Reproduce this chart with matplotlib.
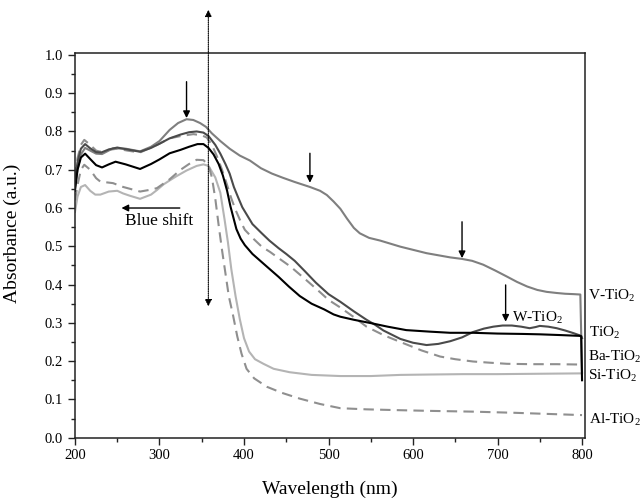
import matplotlib
matplotlib.use("Agg")
import matplotlib.pyplot as plt
from matplotlib.ticker import MultipleLocator, FormatStrFormatter

plt.rcParams["font.family"] = ["Liberation Serif", "DejaVu Serif"]
plt.rcParams["mathtext.fontset"] = "custom"
plt.rcParams["mathtext.rm"] = "Liberation Serif"
plt.rcParams["mathtext.it"] = "Liberation Serif:italic"

# UV-vis absorbance spectra (wavelength in nm, absorbance in a.u.)
v_x = [200, 203, 207, 212, 218, 225, 232, 245, 260, 277, 290, 300, 312, 322, 332, 340,
       348, 355, 362, 372, 383, 395, 407, 420, 433, 446, 460, 478, 490, 498, 506, 514,
       522, 530, 537, 548, 561, 585, 616, 644, 658, 670, 683, 697, 711, 723, 735, 747,
       758, 770, 780, 790, 798, 800]
v_y = [0.655, 0.70, 0.74, 0.757, 0.75, 0.742, 0.741, 0.756, 0.755, 0.748, 0.76, 0.775,
       0.804, 0.822, 0.832, 0.83, 0.822, 0.812, 0.795, 0.775, 0.755, 0.737, 0.724, 0.704,
       0.69, 0.679, 0.668, 0.655, 0.645, 0.634, 0.617, 0.598, 0.572, 0.548, 0.534, 0.522,
       0.515, 0.499, 0.482, 0.471, 0.467, 0.462, 0.452, 0.437, 0.421, 0.407, 0.395, 0.386,
       0.381, 0.378, 0.376, 0.375, 0.374, 0.17]

w_x = [200, 203, 207, 212, 218, 225, 231, 240, 250, 262, 277, 290, 300, 312, 325, 335,
       344, 352, 358, 366, 372, 378, 383, 388, 393, 398, 404, 410, 421, 430, 441, 450,
       460, 472, 485, 500, 514, 530, 545, 555, 565, 585, 600, 616, 630, 644, 658, 671,
       684, 695, 706, 717, 728, 738, 745, 750, 760, 770, 780, 790, 799, 800]
w_y = [0.67, 0.72, 0.755, 0.767, 0.756, 0.746, 0.745, 0.753, 0.758, 0.753, 0.747, 0.757,
       0.768, 0.782, 0.792, 0.798, 0.80, 0.797, 0.788, 0.765, 0.742, 0.715, 0.69, 0.655,
       0.628, 0.602, 0.58, 0.558, 0.534, 0.515, 0.495, 0.48, 0.462, 0.435, 0.405, 0.375,
       0.355, 0.33, 0.308, 0.295, 0.28, 0.258, 0.248, 0.242, 0.245, 0.252, 0.262, 0.276,
       0.285, 0.29, 0.293, 0.293, 0.29, 0.286, 0.289, 0.292, 0.29, 0.286, 0.28, 0.273,
       0.266, 0.26]

t_x = [200, 203, 207, 212, 218, 225, 232, 240, 248, 260, 277, 290, 300, 312, 325, 335,
       345, 352, 358, 364, 370, 375, 380, 384, 391, 396, 401, 410, 427, 441, 453, 466,
       480, 495, 506, 514, 530, 553, 570, 592, 620, 644, 671, 700, 730, 750, 775, 797,
       799, 800]
t_y = [0.645, 0.70, 0.732, 0.742, 0.728, 0.712, 0.706, 0.714, 0.721, 0.714, 0.702, 0.715,
       0.727, 0.743, 0.752, 0.76, 0.767, 0.767, 0.757, 0.74, 0.715, 0.685, 0.645, 0.604,
       0.545, 0.52, 0.503, 0.48, 0.447, 0.42, 0.395, 0.37, 0.35, 0.335, 0.322, 0.316,
       0.308, 0.298, 0.29, 0.281, 0.277, 0.274, 0.274, 0.272, 0.271, 0.27, 0.268, 0.266,
       0.265, 0.15]

ba_x = [200, 203, 207, 211, 218, 225, 230, 240, 250, 262, 277, 290, 300, 312, 325, 340,
        350, 356, 362, 368, 374, 380, 385, 390, 396, 401, 411, 421, 431, 441, 455, 472,
        490, 500, 514, 530, 545, 565, 585, 610, 632, 650, 671, 690, 711, 740, 770, 800]
ba_y = [0.68, 0.73, 0.765, 0.778, 0.765, 0.75, 0.747, 0.752, 0.755, 0.75, 0.745, 0.758,
        0.768, 0.782, 0.788, 0.793, 0.79, 0.784, 0.765, 0.735, 0.70, 0.66, 0.625, 0.595,
        0.565, 0.543, 0.52, 0.499, 0.485, 0.469, 0.447, 0.415, 0.38, 0.36, 0.34, 0.315,
        0.29, 0.268, 0.25, 0.228, 0.212, 0.205, 0.199, 0.196, 0.193, 0.192, 0.192, 0.191]

si_x = [200, 203, 207, 212, 218, 224, 230, 240, 250, 257, 265, 277, 290, 297, 305, 312,
        320, 332, 344, 352, 358, 366, 372, 377, 381, 385, 390, 395, 400, 406, 413, 423,
        435, 454, 480, 514, 550, 585, 620, 660, 700, 750, 800]
si_y = [0.59, 0.63, 0.655, 0.66, 0.645, 0.635, 0.635, 0.643, 0.645, 0.638, 0.632, 0.624,
        0.635, 0.647, 0.662, 0.672, 0.683, 0.698, 0.71, 0.714, 0.71, 0.68, 0.64, 0.57,
        0.51, 0.44, 0.37, 0.31, 0.26, 0.225, 0.205, 0.193, 0.18, 0.171, 0.164, 0.161,
        0.161, 0.164, 0.165, 0.166, 0.166, 0.167, 0.168]

al_x = [200, 203, 207, 211, 218, 225, 230, 245, 257, 277, 290, 297, 312, 325, 335, 344,
        352, 358, 362, 366, 370, 374, 378, 382, 387, 392, 397, 403, 412, 427, 445, 466,
        490, 514, 545, 580, 620, 671, 720, 760, 800]
al_y = [0.62, 0.66, 0.70, 0.713, 0.70, 0.678, 0.669, 0.665, 0.655, 0.643, 0.648, 0.652,
        0.675, 0.70, 0.715, 0.726, 0.725, 0.712, 0.68, 0.625, 0.555, 0.49, 0.43, 0.37,
        0.32, 0.265, 0.22, 0.18, 0.155, 0.133, 0.117, 0.102, 0.088, 0.077, 0.074, 0.072,
        0.07, 0.068, 0.065, 0.062, 0.059]

fig = plt.figure(figsize=(6.42, 4.99), dpi=100)
ax = fig.add_axes([0.1168, 0.1229, 0.7944, 0.7709])

lw = 1.5
ax.plot(v_x, v_y, color="#7f7f7f", lw=lw)
ax.plot(ba_x, ba_y, color="#8f8f8f", lw=lw, ls=(0, (5, 3)))
ax.plot(w_x, w_y, color="#4a4a4a", lw=lw)
ax.plot(si_x, si_y, color="#b4b4b4", lw=lw)
ax.plot(al_x, al_y, color="#8f8f8f", lw=lw, ls=(0, (5, 3)))
ax.plot(t_x, t_y, color="black", lw=lw)

ax.set_xlim(200, 803.5)
ax.set_ylim(0, 1.005)
ax.set_xticks([200, 300, 400, 500, 600, 700, 800])
ax.xaxis.set_minor_locator(MultipleLocator(50))
ax.yaxis.set_major_locator(MultipleLocator(0.1))
ax.yaxis.set_minor_locator(MultipleLocator(0.05))
ax.yaxis.set_major_formatter(FormatStrFormatter("%.1f"))
ax.tick_params(which="both", direction="out", width=1.0, color="#222222",
               labelsize=10.5, top=False, right=False)
ax.tick_params(which="major", length=5)
ax.tick_params(which="minor", length=3)
for s in ax.spines.values():
    s.set_linewidth(1.1)
    s.set_color("#222222")

ax.set_xlabel("Wavelength (nm)", fontsize=14, labelpad=13)
ax.set_ylabel("Absorbance (a.u.)", fontsize=14)
ax.yaxis.set_label_coords(-0.105, 0.53)

arrow = dict(arrowstyle="-|>", color="black", lw=1.0, mutation_scale=10,
             shrinkA=0, shrinkB=0)
for ax_x, y0, y1 in [(332, 0.93, 0.835), (478, 0.743, 0.666),
                     (658, 0.564, 0.469), (709.6, 0.399, 0.303)]:
    ax.annotate("", xy=(ax_x, y1), xytext=(ax_x, y0), arrowprops=arrow)

# edge-position marker spanning above the frame
dotted = dict(arrowstyle="<|-|>", color="black", lw=0.8, ls=(0, (1, 1)),
              mutation_scale=10, shrinkA=0, shrinkB=0)
ax.annotate("", xy=(357.8, 1.118), xytext=(357.8, 0.343), arrowprops=dotted,
            annotation_clip=False)

ax.annotate("", xy=(255, 0.60), xytext=(324, 0.60), arrowprops=arrow)
ax.text(259, 0.566, "Blue shift", fontsize=12.5, ha="left", va="center")

ax.text(717, 0.313, "W-TiO$_2$", fontsize=11, ha="left", va="center")
labels = [("V-TiO$_2$", 806.5, 0.370), ("TiO$_2$", 808.5, 0.273),
          ("Ba-TiO$_2$", 806.5, 0.212), ("Si-TiO$_2$", 806.5, 0.160),
          ("Al-TiO$_2$", 808.0, 0.047)]
for text, xv, yv in labels:
    ax.text(xv, yv, text, fontsize=11, ha="left", va="center", clip_on=False)

fig.savefig("out.png", dpi=100)
